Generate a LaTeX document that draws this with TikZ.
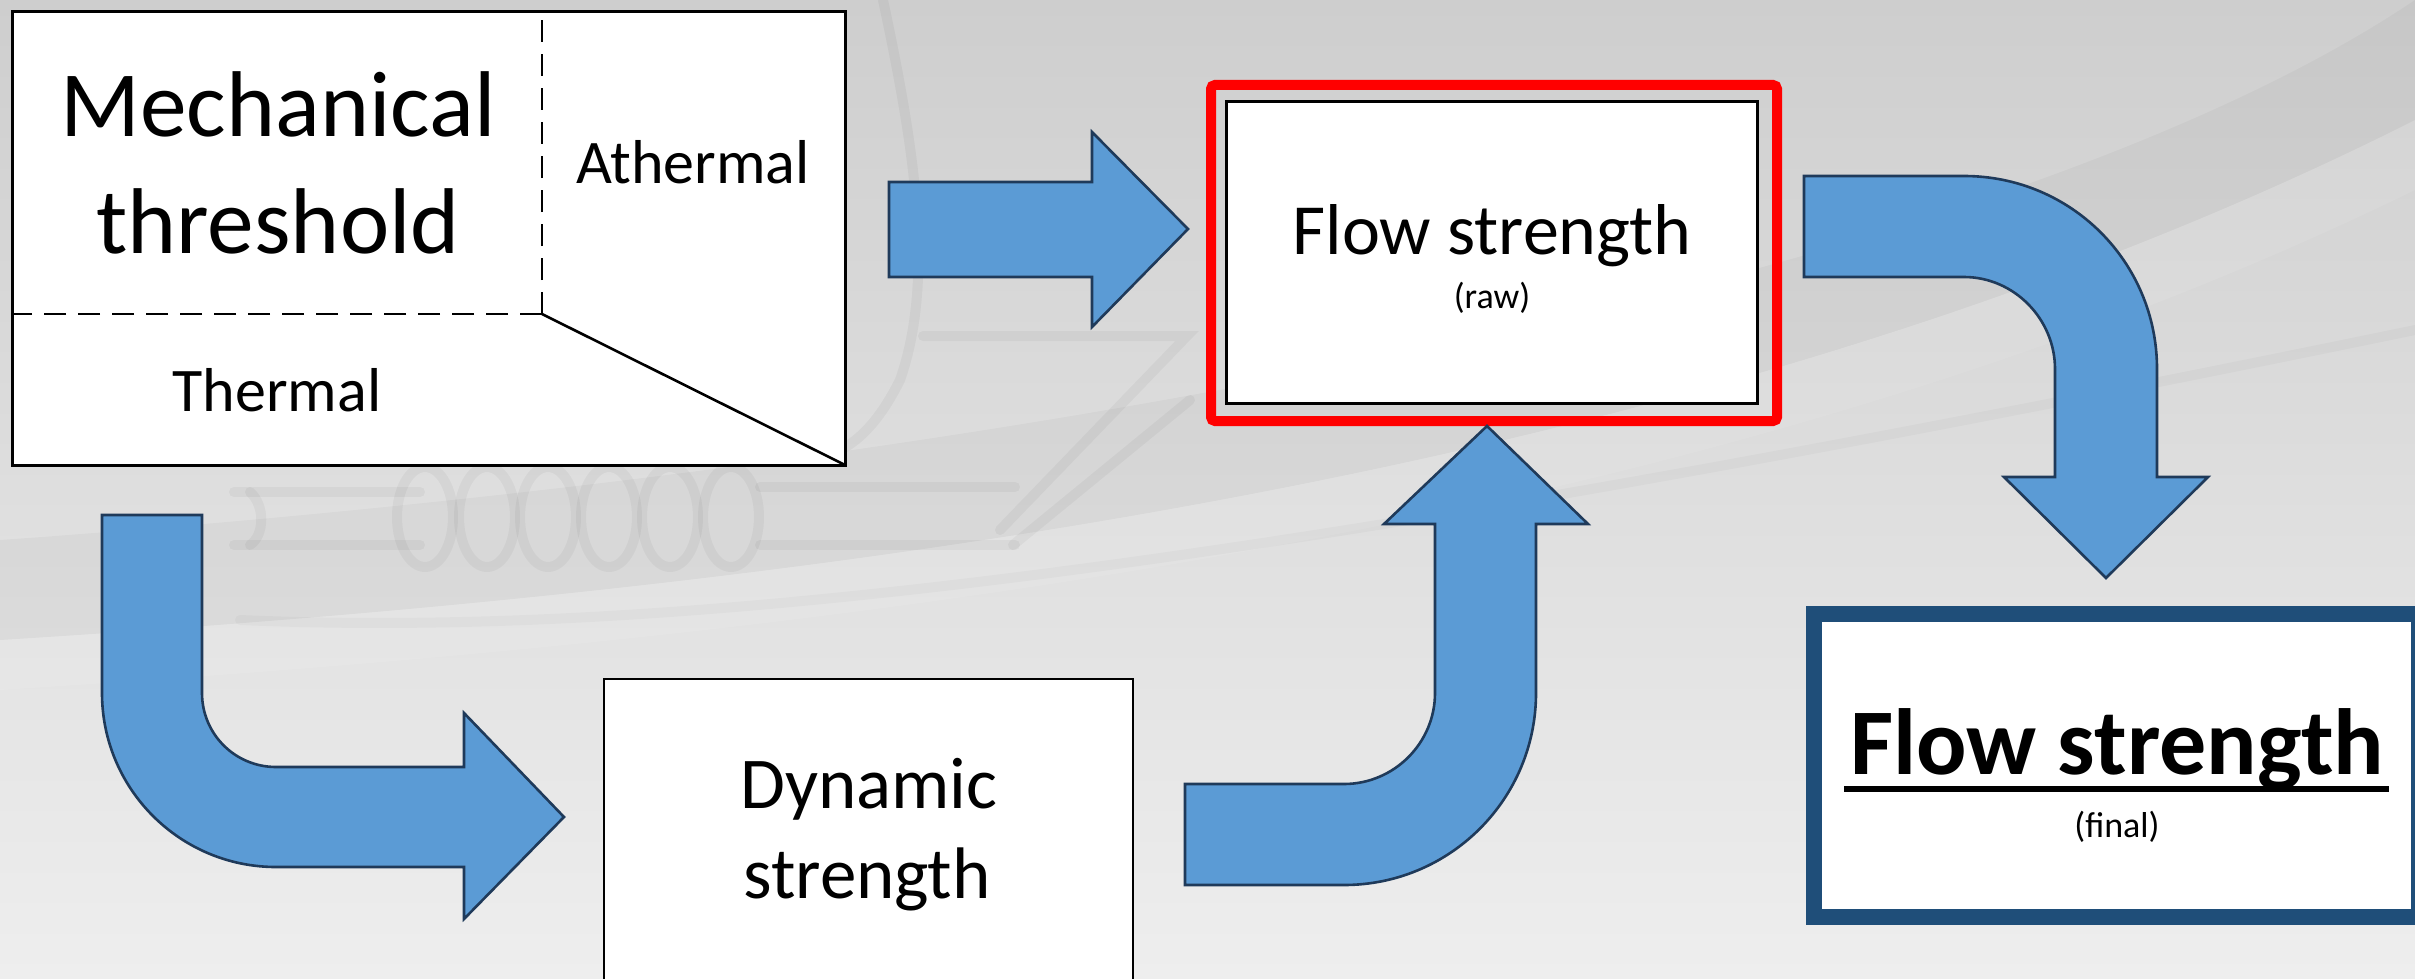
\documentclass[tikz,border=0pt]{standalone}
\usepackage{fontspec}
\setmainfont{Carlito}
\definecolor{arrowfill}{HTML}{5B9BD5}
\definecolor{arrowline}{RGB}{31,58,90}
\definecolor{finalblue}{RGB}{31,78,121}
\definecolor{bgtop}{RGB}{206,206,206}
\definecolor{bgbot}{RGB}{238,238,238}
\tikzset{
  blockarrow/.style={fill=arrowfill, draw=arrowline, line width=1.3pt, line join=miter},
  whitebox/.style={draw=black, fill=white, line width=1.5pt, inner sep=0pt, outer sep=0pt},
  label/.style={inner sep=0pt, outer sep=0pt, anchor=base, text=black},
  wmark/.style={draw=black, opacity=0.04, line width=5pt, line cap=round},
  dashline/.style={draw=black, line width=1.3pt, dash pattern=on 11pt off 6pt},
}
\begin{document}
\begin{tikzpicture}[x=0.5pt,y=-0.5pt]
\path[use as bounding box] (0,0) rectangle (2415,979);
\clip (0,0) rectangle (2415,979);
% background
\shade[top color=bgtop, bottom color=bgbot] (0,0) rectangle (2415,979);
\fill[black, opacity=0.03] (0,640) .. controls (800,590) and (1700,480) .. (2415,120)
  -- (2415,0) .. controls (2000,280) and (1000,470) .. (0,540) -- cycle;
\fill[white, opacity=0.08] (0,640) .. controls (800,590) and (1700,480) .. (2415,120)
  -- (2415,190) .. controls (1700,540) and (800,640) .. (0,690) -- cycle;
% watermark sketch
\draw[wmark] (234,492) -- (420,492) (234,545) -- (420,545);
\draw[wmark] (250,492) .. controls (265,505) and (265,535) .. (250,545);
\foreach \cx in {425,487,548,609,670,731}
  \draw[wmark] (\cx,517) ellipse [x radius=28, y radius=50];
\draw[wmark] (760,487) -- (1015,487) (760,545) -- (1015,545);
\draw[wmark] (923,336) -- (1187,336) -- (1000,530);
\draw[wmark] (1190,400) -- (1013,545);
\draw[wmark] (883,0) .. controls (915,150) and (935,280) .. (900,380) .. controls (880,420) and (860,440) .. (840,450);
\draw[wmark, opacity=0.025] (240,620) .. controls (700,640) and (1300,560) .. (2415,330);
% mechanical threshold box
\node[whitebox, minimum width=416.5pt, minimum height=226.5pt, anchor=north west] (mech) at (12,12) {};
\coordinate (corner) at (542,314);
\draw[dashline] (corner) -- (corner |- mech.north);
\draw[dashline] (corner) -- (corner -| mech.west);
\draw[line width=1.3pt] (corner) -- (mech.south east);
\node[label, font=\fontsize{46.7}{56}\selectfont] (mechA) at (278,137) {Mechanical};
\node[label, font=\fontsize{46.7}{56}\selectfont] (mechB) at (278,253) {threshold};
\node[label, font=\fontsize{31}{37}\selectfont] (ather) at (693,184) {Athermal};
\node[label, font=\fontsize{31}{37}\selectfont] (therm) at (277,411) {Thermal};
% flow strength raw
\node[draw=red, line width=5pt, rounded corners=2pt, minimum width=283pt, minimum height=168pt, inner sep=0pt] (rawout) at (1494,253) {};
\node[whitebox, minimum width=265.5pt, minimum height=150.5pt] (raw) at (1491.5,252.5) {};
\node[label, font=\fontsize{36}{43}\selectfont] (rawA) at (1492,254) {Flow strength};
\node[label, font=\fontsize{18}{22}\selectfont] (rawB) at (1492,308) {(raw)};
% dynamic strength
\node[whitebox, line width=1pt, minimum width=264.5pt, minimum height=160.5pt] (dyn) at (868.5,839.5) {};
\node[label, font=\fontsize{36.5}{44}\selectfont] (dynA) at (869,808) {Dynamic};
\node[label, font=\fontsize{36.5}{44}\selectfont] (dynB) at (867,898) {strength};
% final flow strength
\node[draw=finalblue, fill=white, line width=8pt, minimum width=302.5pt, minimum height=151.25pt, inner sep=0pt] (final) at (2116.5,765.25) {};
\node[label, font=\bfseries\fontsize{47}{56}\selectfont] (finA) at (2117,774) {Flow strength};
\draw[line width=3pt] (1844,789) -- (2389,789);
\node[label, font=\fontsize{18}{22}\selectfont] (finB) at (2117,837) {(final)};
% arrows
\path[blockarrow] (889,182) -- (1092,182) -- (1092,132) -- (1188,229) -- (1092,327) -- (1092,277) -- (889,277) -- cycle;
\path[blockarrow] (1804,176) -- (1964,176) .. controls (2071,176) and (2157,262) .. (2157,369)
  -- (2157,477) -- (2208,477) -- (2106,578) -- (2004,477) -- (2055,477) -- (2055,369)
  .. controls (2055,319) and (2014,277) .. (1964,277) -- (1804,277) -- cycle;
\path[blockarrow] (102,515) -- (202,515) -- (202,693) .. controls (202,734) and (235,767) .. (276,767)
  -- (464,767) -- (464,713) -- (564,817) -- (464,919) -- (464,867) -- (276,867)
  .. controls (180,867) and (102,789) .. (102,693) -- cycle;
\path[blockarrow] (1185,784) -- (1344,784) .. controls (1394,784) and (1435,743) .. (1435,693)
  -- (1435,524) -- (1384,524) -- (1487,426) -- (1588,524) -- (1536,524) -- (1536,693)
  .. controls (1536,799) and (1450,885) .. (1344,885) -- (1185,885) -- cycle;
\end{tikzpicture}
\end{document}
